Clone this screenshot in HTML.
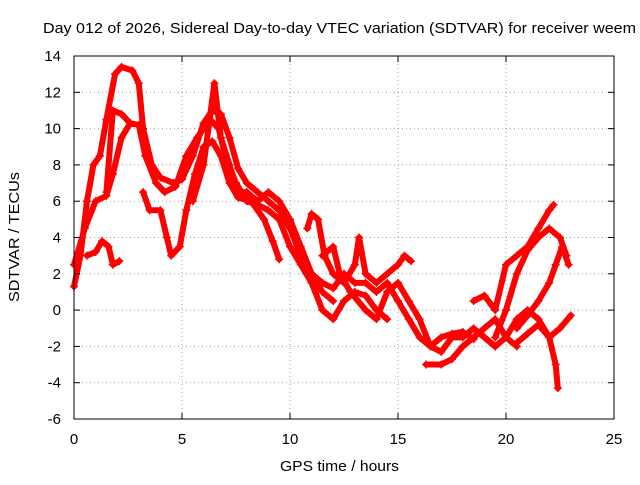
<!DOCTYPE html>
<html><head><meta charset="utf-8"><style>
body{margin:0;background:#fff}
svg text{font-family:"Liberation Sans",sans-serif;font-size:15px;fill:#000}
</style></head><body>
<svg id="chart" width="640" height="480" viewBox="0 0 640 480" xmlns="http://www.w3.org/2000/svg">
<rect width="640" height="480" fill="#fff"/>
<text x="43" y="33" textLength="593" lengthAdjust="spacingAndGlyphs">Day 012 of 2026, Sidereal Day-to-day VTEC variation (SDTVAR) for receiver weem</text>
<g id="grid"></g>
<g id="series"></g>
<rect x="74" y="56" width="540" height="363" fill="none" stroke="#000" stroke-width="1"/>
<g id="ticks"></g>
<text x="280" y="471" textLength="119" lengthAdjust="spacingAndGlyphs">GPS time / hours</text>
<text x="0" y="0" textLength="130" lengthAdjust="spacingAndGlyphs" transform="translate(19 302) rotate(-90)">SDTVAR / TECUs</text>
</svg>
<script>
const xTicks=[0,5,10,15,20,25];
const yTicks=[-6,-4,-2,0,2,4,6,8,10,12,14];
const track1=[[0,1.3],[0.3,3],[0.6,6],[0.9,8],[1.2,8.5],[1.5,10.5],[1.9,13],[2.2,13.4],[2.7,13.2],[3,12.5],[3.2,10],[3.6,8],[4,7.3],[4.6,7],[5,7.2],[5.5,8.5],[6,10.3],[6.4,11],[6.8,10.8],[7.2,9.5],[7.6,7.8],[8,7],[8.5,6.5],[9,6],[9.5,5.5],[10,4.5],[10.5,3],[11,2],[11.5,1],[12,0.5]];
const track2=[[0,2.5],[0.5,4.5],[1,6],[1.5,6.3],[1.8,7.5],[2.2,9.5],[2.6,10.3],[3,10.2],[3.3,8.5],[3.8,7],[4.2,6.5],[4.7,6.8],[5.2,8.5],[5.7,9.5],[6.3,10.5],[6.7,10],[7,8.5],[7.5,7],[8,6],[8.5,5.8],[9,5.5],[9.5,5],[10,3.5],[10.5,2.5],[11,1.5],[11.5,0],[12,-0.5],[12.5,0.5],[13,1],[13.5,0.8],[14,0],[14.5,-0.5]];
const track3=[[0.6,3],[1,3.2],[1.3,3.8],[1.6,3.5],[1.8,2.5],[2.1,2.7]];
const track3b=[[1.5,6.5],[1.8,11],[2.2,10.8],[2.6,10.3]];
const track4=[[3.2,6.5],[3.5,5.5],[4,5.5],[4.3,4],[4.5,3],[4.9,3.5],[5.2,5.5],[5.6,7.5],[6,9],[6.4,9.3],[6.8,8.5],[7.2,7],[7.6,6.2],[8.2,6],[8.8,5],[9.2,3.8],[9.5,2.8]];
const track5=[[5.5,6],[6,8],[6.5,12.5],[6.8,9.5],[7.2,8],[7.5,6.5],[8,6.5],[8.5,6],[9,6.5],[9.5,6],[10,5],[10.5,3.5],[11,2],[11.5,1.5],[12,1.2],[12.5,2],[13,1.5],[13.5,1.5],[14,1],[14.5,1.5],[15,0.5],[15.5,-0.5],[16,-1.5],[16.5,-2],[17,-2.3],[17.5,-1.5],[18,-1.5],[18.5,-1],[19,-1.5],[19.5,-2]];
const track6=[[10.8,4.5],[11,5.3],[11.3,5],[11.6,3],[12,2],[12.5,1.5],[13,2.5],[13.2,4],[13.5,2],[14,1.5],[14.5,2],[15,2.5],[15.3,3],[15.6,2.7]];
const track7=[[11.5,3],[12,3.5],[12.3,2],[12.8,1],[13.5,0],[14,-0.5],[14.5,1],[15,1.5],[15.5,0.5],[16,-0.5],[16.5,-2],[17,-1.5],[17.5,-1.3],[18,-1.2],[18.5,-1.6]];
const track8=[[16.3,-3],[17,-3],[17.5,-2.7],[18,-2],[18.5,-1.5],[19,-1],[19.5,-0.5],[20,-1.5],[20.5,-2]];
const track9=[[18.5,0.5],[19,0.8],[19.5,0],[20,2.5],[20.5,3],[21,3.5],[21.5,4.5],[22,5.5],[22.2,5.8]];
const track10=[[19.5,-1.5],[20,0],[20.5,2],[21,3.3],[21.5,4],[22,4.5],[22.5,4],[22.8,3]];
const track11=[[19,-1.5],[19.5,-2],[20,-1.5],[20.5,-0.5],[21,0],[21.5,-0.5],[22,-1.5],[22.3,-3],[22.4,-4.3]];
const track12=[[20.5,-1],[21,-0.3],[21.5,0.5],[22,1.5],[22.3,2.5],[22.6,3.5],[22.9,2.5]];
const track13=[[20.5,-1.8],[21,-1.3],[21.5,-0.8],[22,-1.5],[22.5,-1],[23,-0.3]];
const tracks=[track1,track2,track3,track3b,track4,track5,track6,track7,track8,track9,track10,track11,track12,track13];

const X0=74,X1=614,Y0=419,Y1=56;
const sx=v=>X0+(v-0)/(25-0)*(X1-X0);
const sy=v=>Y0-(v-(-6))/(14-(-6))*(Y0-Y1);
const NS="http://www.w3.org/2000/svg";
const grid=document.getElementById('grid'),ticks=document.getElementById('ticks'),ser=document.getElementById('series');
function mk(t,a,p){const e=document.createElementNS(NS,t);for(const k in a)e.setAttribute(k,a[k]);p.appendChild(e);return e;}
xTicks.forEach(v=>{
  const x=sx(v);
  if(v>0&&v<25){const g=mk('line',{x1:x,x2:x,y1:Y1,y2:Y0,stroke:'#a0a0a0','stroke-dasharray':'1,3'},grid);
  
  }
  mk('line',{x1:x,x2:x,y1:Y0,y2:Y0-6,stroke:'#000'},ticks);
  mk('line',{x1:x,x2:x,y1:Y1,y2:Y1+6,stroke:'#000'},ticks);
  const t=mk('text',{x:x,y:Y0+25,'text-anchor':'middle'},ticks);t.textContent=v;
  
  
});
yTicks.forEach(v=>{
  const y=sy(v);
  if(v>-6&&v<14){const g=mk('line',{x1:X0,x2:X1,y1:y,y2:y,stroke:'#a0a0a0','stroke-dasharray':'1,3'},grid);
  
  }
  mk('line',{x1:X0,x2:X0+6,y1:y,y2:y,stroke:'#000'},ticks);
  mk('line',{x1:X1,x2:X1-6,y1:y,y2:y,stroke:'#000'},ticks);
  const t=mk('text',{x:X0-13,y:y+5,'text-anchor':'end'},ticks);t.textContent=v;
  
  
});
tracks.forEach((tr)=>{
  const pl=mk('polyline',{points:tr.map(p=>sx(p[0])+','+sy(p[1])).join(' '),fill:'none',stroke:'#ff0000','stroke-width':6,'stroke-linejoin':'round','stroke-linecap':'round'},ser);
  
  
  tr.forEach(p=>{
    const x=sx(p[0]),y=sy(p[1]);
    const m=mk('path',{d:`M${x-4},${y}H${x+4}M${x},${y-4}V${y+4}`,stroke:'#ff0000','stroke-width':1.5},ser);
    
    
  });
});
</script>
</body></html>
